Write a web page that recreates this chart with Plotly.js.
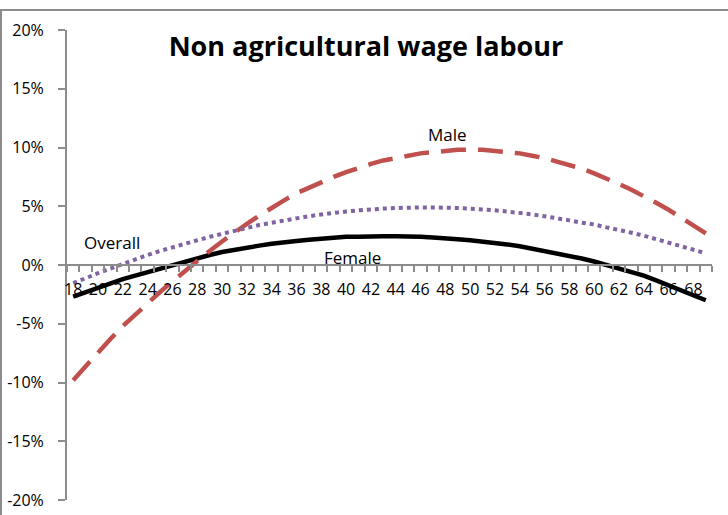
<!DOCTYPE html>
<html><head><meta charset="utf-8">
<script src="https://cdn.plot.ly/plotly-3.0.1.min.js"></script>
<style>
html,body{margin:0;padding:0;background:#fff;}
#frame{position:absolute;left:0;top:9px;width:740px;height:520px;border-top:2px solid #8c8c8c;border-left:2px solid #8c8c8c;pointer-events:none;}
#chart{position:absolute;left:0;top:0;width:728px;height:515px;}
</style></head>
<body>
<div id="chart"></div>
<div id="frame"></div>
<script>
const ages = [18,19,20,21,22,23,24,25,26,27,28,29,30,31,32,33,34,35,36,37,38,39,40,41,42,43,44,45,46,47,48,49,50,51,52,53,54,55,56,57,58,59,60,61,62,63,64,65,66,67,68,69];
const female = [-2.7,-2.3,-1.9,-1.6,-1.2,-0.9,-0.6,-0.3,0.0,0.3,0.6,0.85,1.1,1.3,1.5,1.65,1.8,1.95,2.05,2.15,2.25,2.3,2.4,2.4,2.45,2.45,2.45,2.45,2.4,2.35,2.3,2.2,2.1,2.0,1.9,1.75,1.6,1.4,1.2,1.0,0.8,0.55,0.3,0.0,-0.3,-0.6,-0.9,-1.3,-1.7,-2.1,-2.6,-3.0];
const male = [-9.8,-8.6,-7.4,-6.3,-5.2,-4.2,-3.2,-2.3,-1.4,-0.5,0.4,1.2,2.0,2.8,3.5,4.2,4.9,5.5,6.1,6.6,7.1,7.5,7.9,8.3,8.6,8.9,9.1,9.3,9.5,9.6,9.7,9.8,9.8,9.8,9.7,9.6,9.5,9.3,9.1,8.8,8.5,8.2,7.8,7.4,6.9,6.4,5.9,5.3,4.7,4.0,3.4,2.7];
const overall = [-1.55,-1.1,-0.7,-0.3,0.1,0.5,0.85,1.2,1.5,1.85,2.1,2.4,2.65,2.9,3.2,3.4,3.6,3.8,4.0,4.15,4.3,4.45,4.55,4.65,4.75,4.8,4.85,4.9,4.9,4.9,4.9,4.85,4.8,4.75,4.65,4.55,4.45,4.3,4.15,4.0,3.8,3.6,3.45,3.2,3.0,2.75,2.5,2.2,1.95,1.65,1.35,1.0];
const xTickVals = [18,20,22,24,26,28,30,32,34,36,38,40,42,44,46,48,50,52,54,56,58,60,62,64,66,68];
const yTickVals = [-20,-15,-10,-5,0,5,10,15,20];
const titleText = "Non agricultural wage labour";
const labels = [
  {text:"Male", x:48.2, y:11.1},
  {text:"Overall", x:21.1, y:1.9},
  {text:"Female", x:40.5, y:0.6}
];

const FONT = "Open Sans, Liberation Sans, sans-serif";
const traces = [
  {x:ages, y:female, mode:'lines', name:'Female', line:{color:'#000000', width:4.5}},
  {x:ages, y:male, mode:'lines', name:'Male', line:{color:'#C0504D', width:4.5, dash:'25px,12px'}},
  {x:ages, y:overall, mode:'lines', name:'Overall', line:{color:'#8064A2', width:4, dash:'dot'}}
];
const layout = {
  width:728, height:515,
  margin:{l:67, r:16, t:30, b:15},
  paper_bgcolor:'rgba(0,0,0,0)', plot_bgcolor:'rgba(0,0,0,0)',
  showlegend:false,
  font:{family:FONT, size:16, color:'#000'},
  title:{text:'<b>'+titleText+'</b>', font:{family:FONT, size:27, color:'#000'}, x:366/728, xref:'container', xanchor:'center', y:1-47/515, yref:'container', yanchor:'middle'},
  xaxis:{range:[17.5,69.5], tickvals:xTickVals, ticktext:xTickVals.map(String), ticks:'', showgrid:false, zeroline:false,
    showline:true, linecolor:'#8c8c8c', linewidth:2, anchor:'free', position:0.5, tickfont:{size:16}, ticklabelstandoff:10,
    minor:{tick0:17.5, dtick:1, ticks:'outside', ticklen:6, tickcolor:'#8c8c8c', tickwidth:2, showgrid:false}},
  yaxis:{range:[-20,20], tickvals:yTickVals, ticktext:yTickVals.map(v=>v+'%'), ticks:'outside', ticklen:7, tickcolor:'#8c8c8c', tickwidth:2,
    showgrid:false, zeroline:false, showline:true, linecolor:'#8c8c8c', linewidth:2, tickfont:{size:16}, ticklabelstandoff:11},
  annotations: labels.map(l=>({text:l.text, x:l.x, y:l.y, xref:'x', yref:'y', showarrow:false, font:{size:17, family:FONT}}))
};
Plotly.newPlot('chart', traces, layout, {staticPlot:true, displayModeBar:false});
</script>
</body></html>
